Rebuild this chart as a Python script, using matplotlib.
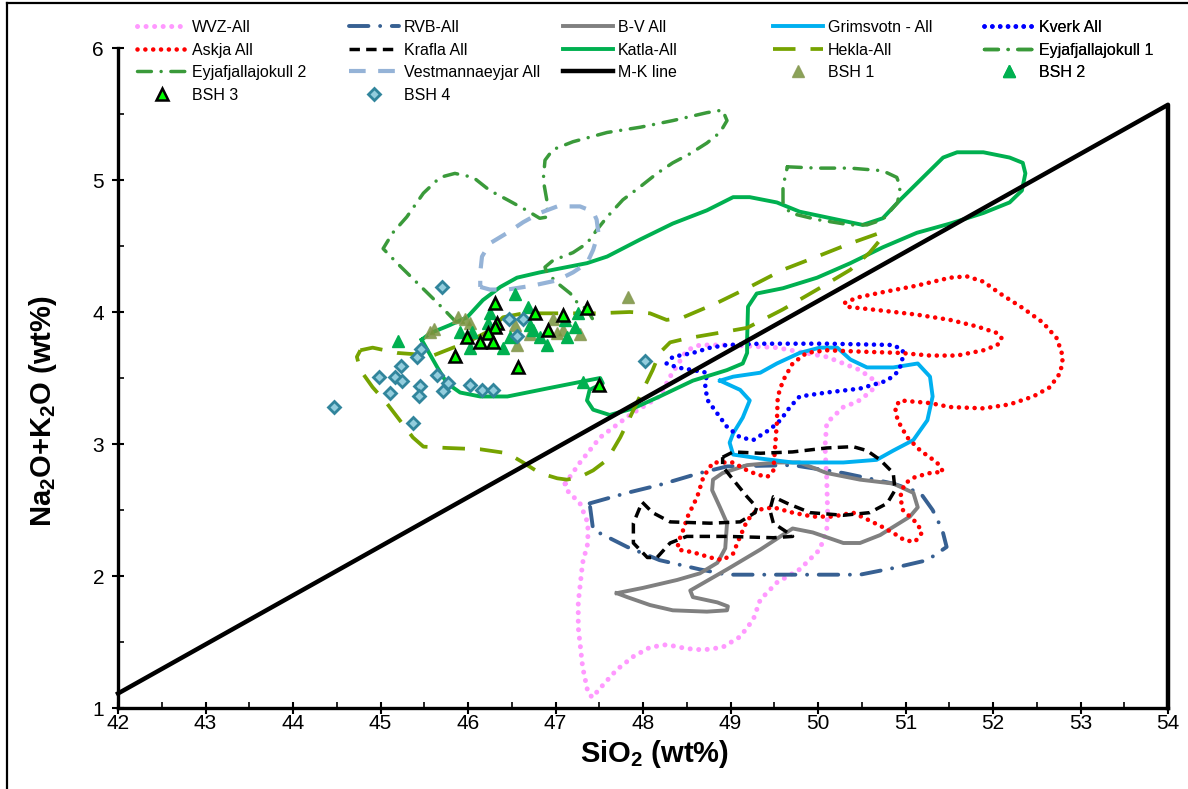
import matplotlib
matplotlib.use("Agg")
import matplotlib.pyplot as plt
from matplotlib.lines import Line2D

plt.rcParams['font.family'] = ['Liberation Sans', 'DejaVu Sans']
plt.rcParams['mathtext.default'] = 'regular'

# --- field outlines: SiO2 (x) vs Na2O+K2O (y) ---
wvz_x = [47.11, 47.28, 47.51, 47.85, 48.19, 48.31, 48.50, 48.65, 48.96, 49.53, 50.10, 50.48, 50.69, 50.59,
         50.45, 50.29, 50.10, 50.08, 50.10, 50.11, 50.10, 50.02, 49.79, 49.53, 49.34, 49.26, 49.11, 48.91,
         48.69, 48.50, 48.27, 48.08, 47.89, 47.70, 47.51, 47.42, 47.37, 47.31, 47.26, 47.26, 47.31, 47.37,
         47.37, 47.28, 47.13, 47.11]
wvz_y = [2.70, 2.86, 3.05, 3.22, 3.36, 3.51, 3.71, 3.75, 3.75, 3.73, 3.66, 3.56, 3.46, 3.39,
         3.32, 3.28, 3.16, 2.98, 2.73, 2.48, 2.35, 2.20, 2.05, 1.95, 1.82, 1.67, 1.54, 1.46,
         1.44, 1.45, 1.48, 1.46, 1.39, 1.29, 1.15, 1.08, 1.12, 1.31, 1.61, 1.80, 2.10, 2.25,
         2.40, 2.55, 2.65, 2.70]

rvb_x = [47.39, 47.82, 48.19, 48.65, 48.96, 49.71, 50.29, 50.86, 51.17, 51.31, 51.42, 51.47, 51.25, 50.86,
         50.48, 49.71, 48.96, 48.65, 48.19, 47.82, 47.43, 47.39]
rvb_y = [2.55, 2.63, 2.69, 2.78, 2.83, 2.84, 2.78, 2.70, 2.63, 2.50, 2.35, 2.22, 2.12, 2.06,
         2.01, 2.01, 2.01, 2.05, 2.12, 2.22, 2.35, 2.55]

bv_x = [47.70, 48.00, 48.39, 48.65, 48.85, 48.94, 48.96, 48.88, 48.79, 48.80, 48.91, 49.19, 49.53, 49.79,
        50.10, 50.48, 50.86, 51.09, 51.14, 51.05, 50.71, 50.48, 50.29, 49.94, 49.71, 49.34, 48.96, 48.54,
        48.57, 48.85, 48.97, 48.96, 48.73, 48.34, 48.08, 47.82, 47.70]
bv_y = [1.87, 1.91, 1.97, 2.02, 2.10, 2.21, 2.40, 2.52, 2.65, 2.73, 2.78, 2.84, 2.86, 2.86,
        2.78, 2.73, 2.70, 2.63, 2.52, 2.45, 2.31, 2.25, 2.25, 2.33, 2.36, 2.20, 2.05, 1.89,
        1.84, 1.80, 1.77, 1.74, 1.73, 1.74, 1.78, 1.84, 1.87]

grim_x = [48.88, 49.03, 49.34, 49.53, 49.79, 50.02, 50.22, 50.37, 50.56, 50.86, 51.14, 51.28, 51.31, 51.25,
          51.09, 50.86, 50.67, 50.29, 49.71, 49.34, 49.03, 48.99, 49.03, 49.14, 49.22, 49.11, 48.88]
grim_y = [3.48, 3.51, 3.54, 3.61, 3.69, 3.73, 3.73, 3.64, 3.58, 3.58, 3.61, 3.51, 3.36, 3.18,
          3.03, 2.95, 2.88, 2.86, 2.86, 2.89, 2.92, 3.01, 3.08, 3.20, 3.33, 3.41, 3.48]

kverk_x = [48.27, 48.34, 48.57, 48.77, 48.96, 49.34, 50.10, 50.86, 50.97, 50.96, 50.90, 50.79, 50.48, 50.10,
           49.79, 49.68, 49.57, 49.45, 49.26, 49.11, 48.96, 48.85, 48.74, 48.71, 48.73, 48.57, 48.39, 48.27]
kverk_y = [3.61, 3.66, 3.69, 3.73, 3.75, 3.76, 3.76, 3.75, 3.71, 3.61, 3.54, 3.48, 3.42, 3.39,
           3.36, 3.28, 3.18, 3.11, 3.03, 3.05, 3.13, 3.23, 3.33, 3.43, 3.54, 3.56, 3.58, 3.61]

askja_x = [50.31, 50.45, 50.74, 51.13, 51.51, 51.70, 51.89, 52.08, 52.34, 52.57, 52.73, 52.80, 52.77, 52.65,
           52.46, 52.19, 51.89, 51.51, 51.28, 50.94, 50.88, 50.91, 51.02, 51.17, 51.36, 51.43, 51.28, 51.11,
           50.99, 50.94, 50.97, 51.13, 51.19, 51.11, 50.99, 50.90, 50.74, 50.59, 50.40, 50.17, 49.94, 49.71,
           49.49, 49.30, 49.19, 49.11, 49.03, 48.91, 48.77, 48.57, 48.40, 48.40, 48.46, 48.51, 48.62, 48.69,
           48.80, 48.91, 49.03, 49.19, 49.30, 49.42, 49.49, 49.51, 49.53, 49.54, 49.60, 49.71, 49.87, 50.10,
           50.48, 50.94, 51.28, 51.59, 51.89, 52.05, 52.10, 52.05, 51.82, 51.51, 51.13, 50.74, 50.33, 50.31]
askja_y = [4.07, 4.11, 4.15, 4.20, 4.26, 4.27, 4.23, 4.14, 4.03, 3.92, 3.80, 3.66, 3.54, 3.43,
           3.36, 3.30, 3.27, 3.28, 3.31, 3.33, 3.28, 3.18, 3.05, 2.95, 2.86, 2.79, 2.78, 2.75,
           2.70, 2.60, 2.50, 2.40, 2.33, 2.26, 2.27, 2.31, 2.37, 2.42, 2.48, 2.45, 2.45, 2.48,
           2.52, 2.50, 2.42, 2.30, 2.17, 2.12, 2.14, 2.18, 2.20, 2.25, 2.35, 2.45, 2.60, 2.75,
           2.86, 2.86, 2.86, 2.80, 2.77, 2.75, 2.80, 2.98, 3.16, 3.36, 3.48, 3.61, 3.69, 3.71,
           3.70, 3.69, 3.67, 3.67, 3.71, 3.75, 3.80, 3.84, 3.89, 3.94, 3.98, 4.01, 4.04, 4.07]

krafla_x = [48.91, 49.03, 49.34, 49.71, 50.10, 50.40, 50.56, 50.71, 50.86, 50.88, 50.79, 50.59, 50.29, 49.91,
            49.65, 49.49, 49.45, 49.49, 49.65, 49.71, 49.49, 48.96, 48.50, 48.31, 48.16, 48.05, 47.89, 47.89,
            47.99, 48.11, 48.31, 48.77, 49.11, 49.28, 49.30, 49.19, 49.03, 48.91, 48.91]
krafla_y = [2.90, 2.94, 2.93, 2.94, 2.97, 2.98, 2.95, 2.88, 2.78, 2.65, 2.55, 2.48, 2.46, 2.48,
            2.55, 2.60, 2.50, 2.40, 2.33, 2.30, 2.29, 2.30, 2.30, 2.25, 2.14, 2.14, 2.25, 2.40,
            2.56, 2.48, 2.41, 2.40, 2.41, 2.48, 2.52, 2.60, 2.73, 2.83, 2.90]

katla_x = [45.47, 45.65, 45.76, 45.91, 46.14, 46.45, 46.90, 47.28, 47.51, 47.54, 47.39, 47.36, 47.43, 47.62,
           47.89, 48.19, 48.57, 48.96, 49.14, 49.19, 49.19, 49.20, 49.30, 49.60, 49.99, 50.37, 50.74, 51.13,
           51.51, 51.89, 52.19, 52.33, 52.37, 52.34, 52.19, 51.89, 51.59, 51.43, 51.20, 50.94, 50.74, 50.51,
           50.22, 49.79, 49.53, 49.22, 49.03, 48.73, 48.34, 47.97, 47.59, 47.36, 46.82, 46.56, 46.37, 46.17,
           45.99, 45.79, 45.57, 45.47]
katla_y = [3.79, 3.58, 3.46, 3.39, 3.36, 3.36, 3.42, 3.47, 3.50, 3.46, 3.41, 3.33, 3.26, 3.22,
           3.27, 3.36, 3.48, 3.56, 3.61, 3.69, 3.79, 4.04, 4.14, 4.18, 4.26, 4.37, 4.49, 4.60,
           4.67, 4.75, 4.83, 4.92, 5.05, 5.13, 5.17, 5.21, 5.21, 5.17, 5.02, 4.85, 4.71, 4.66,
           4.70, 4.76, 4.83, 4.87, 4.87, 4.77, 4.67, 4.55, 4.42, 4.37, 4.30, 4.26, 4.19, 4.09,
           3.96, 3.90, 3.84, 3.79]

hekla_x = [44.77, 44.91, 45.19, 45.60, 45.83, 45.99, 46.25, 46.40, 46.63, 47.09, 47.47, 47.85, 48.08, 48.27,
           48.46, 48.85, 49.22, 49.60, 49.99, 50.37, 50.71, 50.74, 50.59, 50.37, 49.99, 49.60, 49.19, 48.85,
           48.50, 48.31, 48.19, 48.11, 48.00, 47.85, 47.74, 47.59, 47.43, 47.28, 47.13, 47.02, 46.82, 46.63,
           46.45, 46.14, 45.76, 45.49, 45.37, 45.22, 45.07, 44.91, 44.77, 44.73, 44.77]
hekla_y = [3.71, 3.73, 3.69, 3.67, 3.73, 3.77, 3.86, 3.96, 3.99, 3.99, 3.99, 4.00, 3.99, 3.94,
           3.96, 4.07, 4.19, 4.32, 4.42, 4.52, 4.60, 4.57, 4.45, 4.32, 4.17, 4.02, 3.88, 3.84,
           3.80, 3.77, 3.69, 3.56, 3.41, 3.20, 3.05, 2.88, 2.80, 2.75, 2.73, 2.74, 2.78, 2.86,
           2.93, 2.96, 2.97, 2.98, 3.05, 3.18, 3.31, 3.43, 3.56, 3.66, 3.71]

eyj1_x = [49.65, 49.99, 50.37, 50.74, 50.90, 50.94, 50.91, 50.74, 50.56, 50.37, 49.99, 49.68, 49.60, 49.60, 49.65]
eyj1_y = [5.10, 5.09, 5.09, 5.07, 5.02, 4.95, 4.83, 4.70, 4.66, 4.66, 4.70, 4.75, 4.83, 4.95, 5.10]

eyj2_x = [45.87, 45.65, 45.42, 45.19, 45.03, 45.14, 45.30, 45.49, 45.68, 45.85, 46.06, 46.25, 46.45, 46.67,
          46.82, 46.91, 46.90, 46.86, 46.88, 46.97, 47.20, 47.59, 47.97, 48.34, 48.73, 48.91, 48.96, 48.88,
          48.73, 48.54, 48.34, 48.16, 47.97, 47.77, 47.59, 47.47, 47.36, 47.20, 46.97, 46.88, 46.90, 47.02,
          47.17, 47.25, 47.36, 47.43]
eyj2_y = [3.92, 4.07, 4.22, 4.37, 4.48, 4.60, 4.72, 4.90, 5.02, 5.05, 5.02, 4.92, 4.85, 4.77,
          4.71, 4.72, 4.85, 5.00, 5.15, 5.23, 5.29, 5.36, 5.40, 5.45, 5.51, 5.53, 5.45, 5.36,
          5.28, 5.20, 5.13, 5.05, 4.95, 4.85, 4.72, 4.62, 4.52, 4.45, 4.39, 4.34, 4.30, 4.22,
          4.14, 4.07, 4.02, 3.94]

vest_x = [46.14, 46.25, 46.45, 46.74, 47.02, 47.20, 47.36, 47.43, 47.49, 47.47, 47.43, 47.28, 47.02, 46.82,
          46.63, 46.45, 46.25, 46.16, 46.14, 46.14]
vest_y = [4.19, 4.17, 4.17, 4.20, 4.24, 4.30, 4.37, 4.47, 4.60, 4.70, 4.76, 4.80, 4.80, 4.75,
          4.68, 4.60, 4.52, 4.42, 4.30, 4.19]

# Macdonald-Katsura line (with its closing edge at SiO2 = 54)
mk_x = [42, 54, 54]
mk_y = [1.11, 5.57, 1.0]

# --- sample analyses ---
bsh1_x = [45.57, 45.61, 45.89, 45.97, 46.02, 46.54, 46.56, 46.71, 46.97, 47.02, 47.09, 47.28, 47.83]
bsh1_y = [3.85, 3.87, 3.96, 3.95, 3.92, 3.90, 3.75, 3.83, 3.95, 3.84, 3.86, 3.83, 4.11]

bsh2_x = [45.20, 46.54, 46.69, 46.25, 46.23, 45.91, 46.05, 46.02, 46.40, 46.48, 46.71, 46.74, 46.82, 46.90,
          47.13, 47.11, 47.22, 47.26, 47.31]
bsh2_y = [3.78, 4.14, 4.04, 3.99, 3.92, 3.85, 3.85, 3.73, 3.73, 3.81, 3.90, 3.86, 3.81, 3.75,
          3.81, 3.94, 3.89, 3.99, 3.47]

bsh3_x = [46.31, 46.33, 46.31, 46.23, 45.99, 46.14, 46.29, 46.77, 46.91, 47.09, 47.36, 45.85, 46.57, 47.50]
bsh3_y = [4.07, 3.92, 3.89, 3.84, 3.81, 3.77, 3.77, 3.99, 3.86, 3.98, 4.03, 3.67, 3.58, 3.45]

bsh4_x = [44.47, 44.98, 45.11, 45.17, 45.23, 45.25, 45.37, 45.42, 45.46, 45.45, 45.44, 45.65, 45.71, 45.77,
          46.02, 46.16, 46.29, 46.56, 45.70, 46.47, 46.63, 48.02]
bsh4_y = [3.28, 3.51, 3.39, 3.51, 3.59, 3.48, 3.16, 3.66, 3.72, 3.44, 3.36, 3.52, 3.40, 3.46,
          3.45, 3.41, 3.41, 3.82, 4.19, 3.95, 3.95, 3.63]

fig = plt.figure(figsize=(11.88, 7.89), dpi=100)
ax = fig.add_axes([118 / 1188, 81 / 789, 1050 / 1188, 660 / 789])

dot = dict(dash_capstyle='round', solid_capstyle='round')
h_wvz, = ax.plot(wvz_x, wvz_y, color='#FF99FF', lw=3.6, ls=(0, (0.01, 1.7)), label='WVZ-All', **dot)
h_rvb, = ax.plot(rvb_x, rvb_y, color='#376092', lw=2.8, ls=(0, (5.0, 3.0, 0.01, 3.0)), label='RVB-All',
                 dash_capstyle='round')
h_bv, = ax.plot(bv_x, bv_y, color='#808080', lw=2.8, label='B-V All')
h_grim, = ax.plot(grim_x, grim_y, color='#00B0F0', lw=2.8, label='Grimsvotn - All')
h_kverk, = ax.plot(kverk_x, kverk_y, color='#0000FF', lw=3.3, ls=(0, (0.01, 1.7)), label='Kverk All', **dot)
h_askja, = ax.plot(askja_x, askja_y, color='#FF0000', lw=3.3, ls=(0, (0.01, 1.7)), label='Askja All', **dot)
h_krafla, = ax.plot(krafla_x, krafla_y, color='black', lw=2.5, ls=(0, (3.0, 1.8)), label='Krafla All')
h_katla, = ax.plot(katla_x, katla_y, color='#00B050', lw=2.8, label='Katla-All')
h_hekla, = ax.plot(hekla_x, hekla_y, color='#76A300', lw=2.7, ls=(0, (6.0, 4.0)), label='Hekla-All')
h_eyj1, = ax.plot(eyj1_x, eyj1_y, color='#3A9A3A', lw=2.5, ls=(0, (4.0, 2.8, 0.01, 2.8)),
                  label='Eyjafjallajokull 1', dash_capstyle='round')
h_eyj2, = ax.plot(eyj2_x, eyj2_y, color='#3A9A3A', lw=2.5, ls=(0, (4.0, 2.8, 0.01, 2.8)),
                  label='Eyjafjallajokull 2', dash_capstyle='round')
h_vest, = ax.plot(vest_x, vest_y, color='#95B3D7', lw=3.0, ls=(0, (4.0, 3.0)), label='Vestmannaeyjar All')
h_mk, = ax.plot(mk_x, mk_y, color='black', lw=3.2, label='M-K line', clip_on=False, zorder=2.6)

h_bsh1, = ax.plot(bsh1_x, bsh1_y, ls='none', marker='^', ms=8.5, color='#77933C', alpha=0.85,
                  markeredgecolor='#8A9A55', label='BSH 1', zorder=3)
h_bsh2, = ax.plot(bsh2_x, bsh2_y, ls='none', marker='^', ms=8.5, color='#00B050', label='BSH 2', zorder=3)
h_bsh3, = ax.plot(bsh3_x, bsh3_y, ls='none', marker='^', ms=8.5, markerfacecolor='#00FF00',
                  markeredgecolor='black', markeredgewidth=1.8, label='BSH 3', zorder=3.1)
h_bsh4, = ax.plot(bsh4_x, bsh4_y, ls='none', marker='D', ms=6, markerfacecolor='#93CDDD',
                  markeredgecolor='#31859C', markeredgewidth=2.0, label='BSH 4', zorder=3)

ax.set_xlim(42, 54)
ax.set_ylim(1, 6)
ax.set_xticks(range(42, 55))
ax.set_yticks(range(1, 7))
ax.set_xticks([x + 0.5 for x in range(42, 54)], minor=True)
ax.set_yticks([y + 0.5 for y in range(1, 6)], minor=True)
ax.tick_params(which='major', direction='inout', length=8, width=1.5, labelsize=15, colors='black')
ax.tick_params(which='minor', direction='in', length=4, width=1.2)
ax.tick_params(axis='x', pad=0)
ax.tick_params(axis='y', pad=6)
for side in ['top', 'right']:
    ax.spines[side].set_visible(False)
for side in ['left', 'bottom']:
    ax.spines[side].set_linewidth(2.4)

ax.set_xlabel(r'SiO$_2$ (wt%)', fontsize=21, fontweight='bold')
ax.xaxis.set_label_coords(0.511, -0.046)
ax.set_ylabel(r'Na$_2$O+K$_2$O (wt%)', fontsize=21, fontweight='bold')
ax.yaxis.set_label_coords(-0.056, 0.45)

# legend laid out in five columns, as in the original
columns = [[h_wvz, h_askja, h_eyj2, h_bsh3],
           [h_rvb, h_krafla, h_vest, h_bsh4],
           [h_bv, h_katla, h_mk],
           [h_grim, h_hekla, h_bsh1],
           [h_kverk, h_eyj1, h_bsh2]]
col_left = [137, 349, 563, 773, 984]
for handles, left in zip(columns, col_left):
    leg = ax.legend(handles=handles, loc='upper left', bbox_to_anchor=(left / 1188, 1 - 20 / 789),
                    bbox_transform=fig.transFigure, frameon=False, fontsize=11.5, handlelength=3.1,
                    handletextpad=0.35, borderpad=0, borderaxespad=0, labelspacing=0.47, numpoints=1)
    ax.add_artist(leg)

# outer frame of the figure (left and top edges visible)
fig.add_artist(Line2D([7 / 1188, 7 / 1188], [0, 1 - 3 / 789], transform=fig.transFigure, color='black', lw=1.6))
fig.add_artist(Line2D([7 / 1188, 1], [1 - 3 / 789, 1 - 3 / 789], transform=fig.transFigure, color='black', lw=1.6))

fig.savefig('out.png', dpi=100)
